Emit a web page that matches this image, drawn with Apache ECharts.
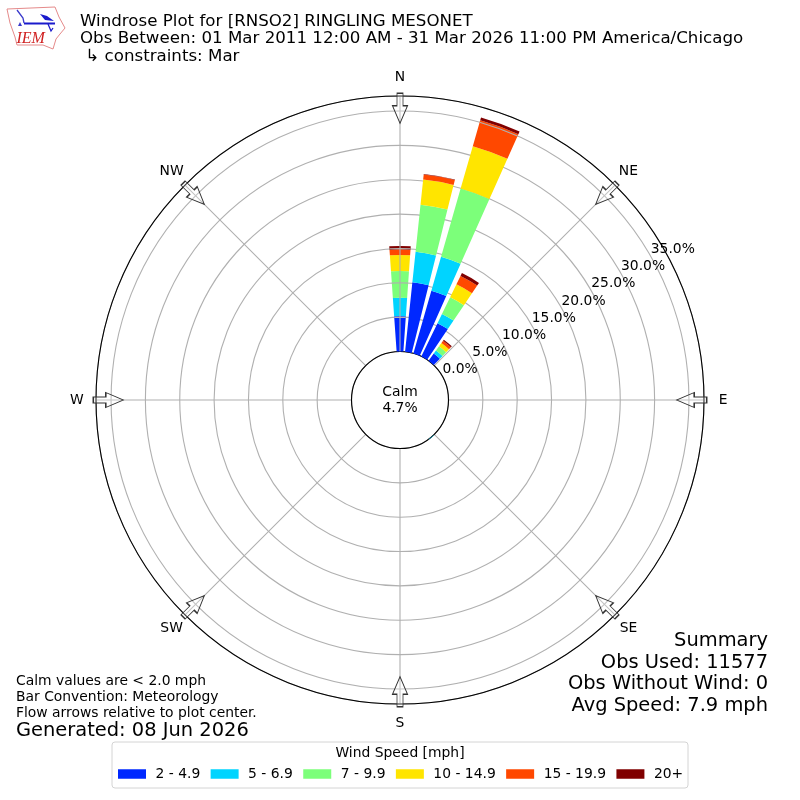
<!DOCTYPE html>
<html><head><meta charset="utf-8">
<style>html,body{margin:0;padding:0;background:#fff}#c{width:800px;height:800px}</style>
<script src="https://cdn.jsdelivr.net/npm/echarts@6/dist/echarts.min.js"></script>
</head><body><div id="c"></div>
<script>
const directions = ['0','10','20','30','40','50','60','70','80','90','100','110','120','130','140','150','160','170','180','190','200','210','220','230','240','250','260','270','280','290','300','310','320','330','340','350'];
const speedLabels = ['2 - 4.9','5 - 6.9','7 - 9.9','10 - 14.9','15 - 19.9','20+'];
const speedColors = ['#0028ff','#00d4ff','#7cff7a','#ffe500','#ff4800','#800000'];
const s2to4  = [5.17,10.17,9.50,5.39,1.30,0,0,0,0,0,0,0,0,0,0,0,0,0,0,0,0,0,0,0,0,0,0,0,0,0,0,0,0,0,0,0];
const s5to6  = [2.66,4.46,5.13,1.49,0.55,0,0,0,0,0,0,0,0,0,0.06,0,0,0,0,0,0,0,0,0,0,0,0,0,0,0,0,0,0,0,0,0];
const s7to9  = [3.89,6.87,10.32,2.70,0.75,0,0,0,0,0,0,0,0,0,0,0,0,0,0,0,0,0,0,0,0,0,0,0,0,0,0,0,0,0,0,0];
const s10to14= [2.33,3.70,6.43,2.10,0.60,0,0,0,0,0,0,0,0,0,0,0,0,0,0,0,0,0,0,0,0,0,0,0,0,0,0,0,0,0,0,0];
const s15to19= [0.83,0.75,3.92,1.35,0.40,0,0,0,0,0,0,0,0,0,0,0,0,0,0,0,0,0,0,0,0,0,0,0,0,0,0,0,0,0,0,0];
const s20up  = [0.48,0.05,0.43,0.47,0.20,0,0,0,0,0,0,0,0,0,0,0,0,0,0,0,0,0,0,0,0,0,0,0,0,0,0,0,0,0,0,0];
const speedSeries = [s2to4,s5to6,s7to9,s10to14,s15to19,s20up];
const compass = ['N','NE','E','SE','S','SW','W','NW'];
const compassAngles = [0,45,90,135,180,225,270,315];
const radialTicks = [0,5,10,15,20,25,30,35];
const titleLines = ['Windrose Plot for [RNSO2] RINGLING MESONET','Obs Between: 01 Mar 2011 12:00 AM - 31 Mar 2026 11:00 PM America/Chicago',' \u21b3 constraints: Mar'];
const summaryLines = ['Summary','Obs Used: 11577','Obs Without Wind: 0','Avg Speed: 7.9 mph'];
const noteLines = ['Calm values are < 2.0 mph','Bar Convention: Meteorology','Flow arrows relative to plot center.'];
const generated = 'Generated: 08 Jun 2026';
const calmText = 'Calm\n4.7%';
const ringsOverBars = [[5,0],[10,0],[15,0],[35,20]];

const FONT = '"DejaVu Sans"';
const R0 = 48.5, R1 = 304, RMAX = 37.19, arrowAt = 35.4, compassAt = 39.96;
const arrowPath = 'path://M4.5 0L10.5 0L10.5 12.5L15 12.5L7.5 30L0 12.5L4.5 12.5Z';

function txt(x,y,text,size,align,color){
  return {type:'text',x:x,y:y,silent:true,z:20,style:{text:text,fill:color||'#000',font:size+'px '+FONT,align:align||'left',verticalAlign:'middle',lineHeight:16}};
}
const graphics = [];
titleLines.forEach((t,i)=>graphics.push(txt(80,[21.5,38.5,56.5][i],t,16.67)));
summaryLines.forEach((t,i)=>graphics.push(txt(768,[641,662.5,684,706][i],t,19.44,'right')));
noteLines.forEach((t,i)=>graphics.push(txt(16,[681,697,713][i],t,13.89)));
graphics.push(txt(16,731,generated,19.44));
graphics.push(txt(400,400,calmText,13.89,'center'));
graphics.push({type:'rect',z:1,silent:true,shape:{x:112,y:742,width:576,height:46,r:3},style:{fill:'#fff',stroke:'#d4d4d4',lineWidth:1}});
graphics.push(txt(400,753,'Wind Speed [mph]',13.89,'center'));
// IEM logo
graphics.push({type:'polygon',silent:true,z:20,shape:{points:[[7,9],[55,7],[59,17],[65,28],[60,34],[56,39],[53,49],[43,45],[17,45],[15,37],[10,23]]},style:{fill:'none',stroke:'#e58a8a',lineWidth:1}});
graphics.push({type:'polyline',silent:true,z:21,shape:{points:[[24,23.5],[55,23.5]]},style:{stroke:'#1a1acc',lineWidth:2}});
graphics.push({type:'polyline',silent:true,z:21,shape:{points:[[17,10],[23,18],[24,23]]},style:{stroke:'#3a3acc',lineWidth:1.3}});
graphics.push({type:'polygon',silent:true,z:21,shape:{points:[[40,14],[47,16],[54,21],[45,20]]},style:{fill:'#1a1acc'}});
graphics.push({type:'polygon',silent:true,z:21,shape:{points:[[20,22],[22,26],[18,26]]},style:{fill:'#3a3acc'}});
graphics.push({type:'polyline',silent:true,z:21,shape:{points:[[48,24],[51,31],[53,28]]},style:{stroke:'#1a1acc',lineWidth:1.3}});
graphics.push({type:'text',silent:true,z:21,x:16.5,y:39,style:{text:'IEM',fill:'#d02020',font:'italic 16px "Liberation Serif"',align:'left',verticalAlign:'middle'}});

const series = speedSeries.map((d,i)=>({
  type:'bar',name:speedLabels[i],coordinateSystem:'polar',polarIndex:0,stack:'wind',
  data:d,barWidth:'80%',itemStyle:{color:speedColors[i]},z:3,silent:true
}));
// N spoke and a few rings show through the bars
series.push({type:'line',coordinateSystem:'polar',polarIndex:1,data:[[0,0],[16,0]],showSymbol:false,silent:true,z:4,lineStyle:{color:'#b0b0b0',width:1.1}});
ringsOverBars.forEach(r=>series.push({type:'line',coordinateSystem:'polar',polarIndex:1,
  data:[[r[0],r[1]-4],[r[0],r[1]],[r[0],r[1]+4]],showSymbol:false,silent:true,z:4,lineStyle:{color:'#b0b0b0',width:1.1}}));
// flow arrows
series.push({type:'scatter',coordinateSystem:'polar',polarIndex:1,silent:true,z:6,
  data:compassAngles.map(a=>({value:[arrowAt,a],symbolRotate:-a})),
  symbol:arrowPath,symbolSize:[15,30],itemStyle:{color:'rgba(255,255,255,0.25)',borderColor:'#333',borderWidth:1.1,opacity:1}});
// compass labels
series.push({type:'scatter',coordinateSystem:'polar',polarIndex:1,silent:true,z:6,clip:false,
  data:compassAngles.map((a,i)=>({value:[compassAt,a],name:compass[i]})),symbolSize:1,
  itemStyle:{color:'rgba(0,0,0,0)',opacity:1},
  label:{show:true,position:'inside',color:'#000',fontFamily:FONT,fontSize:13.89,formatter:p=>p.name}});
// radial tick labels at 60 degrees
series.push({type:'scatter',coordinateSystem:'polar',polarIndex:1,silent:true,z:6,
  data:radialTicks.map(v=>[v,60]),symbolSize:1,itemStyle:{color:'rgba(0,0,0,0)',opacity:1},
  label:{show:true,position:'right',distance:0,offset:[0,-6],color:'#000',fontFamily:FONT,fontSize:13.89,
    formatter:p=>p.value[0].toFixed(1)+'%'}});

const chart = echarts.init(document.getElementById('c'),null,{renderer:'canvas'});
chart.setOption({
  animation:false,
  backgroundColor:'#fff',
  textStyle:{fontFamily:FONT},
  polar:[{center:[400,400],radius:[R0,R1]},{center:[400,400],radius:[R0,R1]}],
  angleAxis:[
    {polarIndex:0,type:'category',data:directions,startAngle:95,clockwise:true,boundaryGap:true,
     axisLine:{show:false},axisTick:{show:false},axisLabel:{show:false},splitLine:{show:false}},
    {polarIndex:1,type:'value',min:0,max:360,interval:45,startAngle:90,clockwise:true,
     axisLine:{show:true,lineStyle:{color:'#000',width:1.1}},axisTick:{show:false},
     axisLabel:{show:false},
     splitLine:{show:true,lineStyle:{color:'#b0b0b0',width:1.1}}}
  ],
  radiusAxis:[
    {polarIndex:0,type:'value',min:0,max:RMAX,interval:5,
     axisLine:{show:false},axisTick:{show:false},axisLabel:{show:false},
     splitLine:{show:true,lineStyle:{color:'#b0b0b0',width:1.1}}},
    {polarIndex:1,type:'value',min:0,max:RMAX,interval:5,
     axisLine:{show:false},axisTick:{show:false},axisLabel:{show:false},splitLine:{show:false}}
  ],
  legend:{data:speedLabels,left:118,top:767,orient:'horizontal',padding:0,itemWidth:28,itemHeight:9.5,itemGap:10.4,
    icon:'rect',selectedMode:false,z:10,textStyle:{fontFamily:FONT,fontSize:13.89,color:'#000',padding:[0,0,0,4.5]}},
  graphic:graphics,
  series:series
});
</script></body></html>
